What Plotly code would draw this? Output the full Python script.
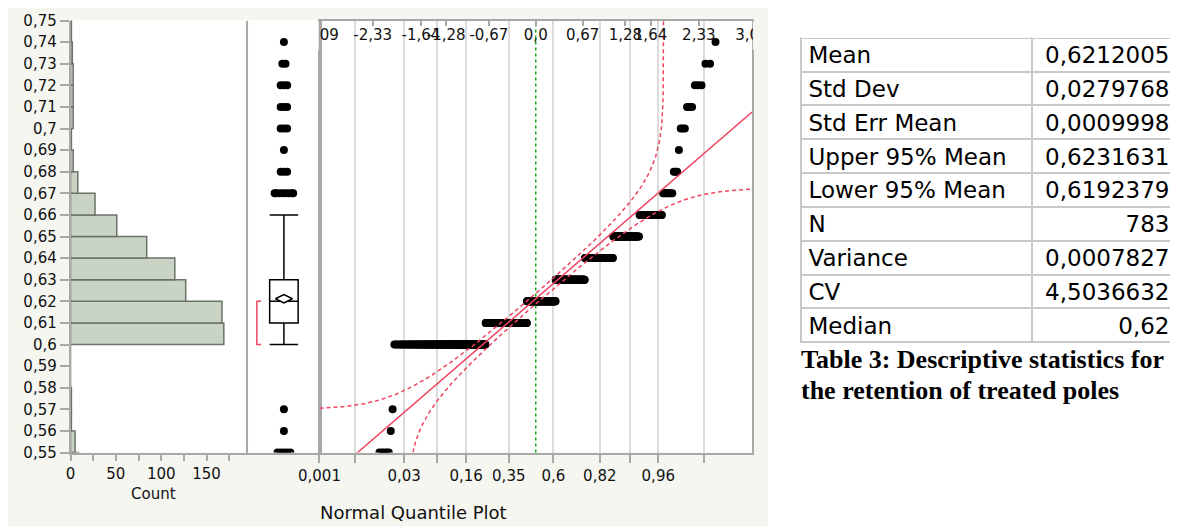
import numpy as np
import plotly.graph_objects as go
from statistics import NormalDist

# ---------------- data ----------------
# retention levels (0.01 steps) and how many poles sit at each level
# (0.54 / 0.76 are off-scale values hidden below / above the axis range)
levels = [0.54, 0.55, 0.56, 0.57, 0.58, 0.59, 0.60, 0.61, 0.62, 0.63, 0.64,
          0.65, 0.66, 0.67, 0.68, 0.69, 0.70, 0.71, 0.72, 0.73, 0.74, 0.76]
counts = [9, 5, 1, 1, 0, 0, 169, 167, 127, 115, 84,
          51, 27, 8, 3, 1, 3, 3, 3, 2, 1, 3]

# box-plot statistics
box_q1 = 0.61
box_median = 0.62
box_q3 = 0.63
whisker_low = 0.60
whisker_high = 0.66
shortest_half = [0.60, 0.62]

# descriptive statistics table
stat_names = ["Mean", "Std Dev", "Std Err Mean", "Upper 95% Mean",
              "Lower 95% Mean", "N", "Variance", "CV", "Median"]
stat_values = ["0,6212005", "0,0279768", "0,0009998", "0,6231631",
               "0,6192379", "783", "0,0007827", "4,5036632", "0,62"]

# Lilliefors critical distance for the confidence bands
lilliefors_d = 0.034

# axis tick labels
y_tick_labels = ["0,55", "0,56", "0,57", "0,58", "0,59", "0,6", "0,61", "0,62",
                 "0,63", "0,64", "0,65", "0,66", "0,67", "0,68", "0,69", "0,7",
                 "0,71", "0,72", "0,73", "0,74", "0,75"]
count_ticks = [0, 25, 50, 75, 100, 125, 150, 175]
count_labels = ["0", "", "50", "", "100", "", "150", ""]
prob_ticks = [0.001, 0.005, 0.03, 0.08, 0.16, 0.35, 0.6, 0.82, 0.91, 0.96, 0.992]
prob_labels = ["0,001", "", "0,03", "", "0,16", "0,35", "0,6", "0,82", "", "0,96", ""]
quant_ticks = [-3.09, -2.33, -1.64, -1.28, -0.67, 0.0, 0.67, 1.28, 1.64, 2.33, 3.09]
quant_labels = ["-3,09", "-2,33", "-1,64", "-1,28", "-0,67", "0,0", "0,67",
                "1,28", "1,64", "2,33", "3,09"]
caption_lines = ["Table 3: Descriptive statistics for", "the retention of treated poles"]

# ---------------- derived quantities ----------------
def num(s):
    return float(s.replace(",", "."))

stats = dict(zip(stat_names, stat_values))
mean = num(stats["Mean"])
sd = num(stats["Std Dev"])
mean_hi = num(stats["Upper 95% Mean"])
mean_lo = num(stats["Lower 95% Mean"])

nd = NormalDist()
y_ticks = [num(t) for t in y_tick_labels]
y_range = [y_ticks[0], y_ticks[-1]]
z_range = [quant_ticks[0], quant_ticks[-1]]

values = np.repeat(levels, counts)
n = len(values)
normal_scores = np.array([nd.inv_cdf(r / (n + 1)) for r in range(1, n + 1)])

# outliers for box plot (beyond whiskers), spread side by side
out_x, out_y = [], []
for lv, c in zip(levels, counts):
    if lv < whisker_low or lv > whisker_high:
        for k in range(c):
            off = (k - (c - 1) / 2) * 0.045
            out_x.append(max(-0.13, min(0.13, off)))
            out_y.append(lv)

# fit line and Lilliefors bands
fit_z = np.array(z_range)
fit_y = mean + sd * fit_z
eps = np.logspace(-10, -2, 40)
z_grid = np.concatenate([
    np.linspace(z_range[0], z_range[1], 500),
    [nd.inv_cdf(1 - lilliefors_d - e) for e in eps],
    [nd.inv_cdf(lilliefors_d + e) for e in eps],
])
z_grid = np.sort(z_grid)
band_hi, band_lo = [], []
for zz in z_grid:
    p = nd.cdf(zz)
    band_hi.append(mean + sd * nd.inv_cdf(p + lilliefors_d) if p + lilliefors_d < 1 else None)
    band_lo.append(mean + sd * nd.inv_cdf(p - lilliefors_d) if p - lilliefors_d > 0 else None)

# ---------------- layout geometry (page has an 8px body margin) ----------------
OFF = 8
W, H = 1178 - OFF, 526 - OFF
def px_x(v):
    return (v - OFF) / W
def px_y(v):
    return 1 - (v - OFF) / H

dom_y = [px_y(452.5), px_y(20.5)]
dom_hist = [px_x(70.5), px_x(248.3)]
dom_box = [px_x(248.3), px_x(319.5)]
dom_q = [px_x(319.5), px_x(752)]

FONT = "DejaVu Sans"
TXT = "#111111"
FRAME = "#a8a8a8"
RED = "#ef4560"
GREEN = "#14a814"
PANEL = "#f6f6f1"

fig = go.Figure()

# histogram
fig.add_trace(go.Bar(
    x=counts, y=levels, orientation="h", width=0.01, offset=0,
    marker=dict(color="#c9d4c7", line=dict(color="#6b7369", width=1.5)),
    xaxis="x", yaxis="y", hoverinfo="skip"))

# box plot
fig.add_trace(go.Box(
    x=[0], q1=[box_q1], median=[box_median], q3=[box_q3],
    lowerfence=[whisker_low], upperfence=[whisker_high],
    width=0.4, whiskerwidth=1, fillcolor="white",
    line=dict(color="black", width=1.5), boxpoints=False,
    xaxis="x2", yaxis="y2", hoverinfo="skip"))
dhw = 0.12
fig.add_trace(go.Scatter(
    x=[-dhw, 0, dhw, 0, -dhw], y=[mean, mean_hi, mean, mean_lo, mean],
    mode="lines", fill="toself", fillcolor="white",
    line=dict(color="black", width=1.5), xaxis="x2", yaxis="y2", hoverinfo="skip"))
fig.add_trace(go.Scatter(
    x=[-0.32, -0.38, -0.38, -0.32],
    y=[shortest_half[1], shortest_half[1], shortest_half[0], shortest_half[0]],
    mode="lines", line=dict(color=RED, width=1.5), xaxis="x2", yaxis="y2",
    hoverinfo="skip"))
fig.add_trace(go.Scatter(
    x=out_x, y=out_y, mode="markers", marker=dict(color="black", size=8),
    xaxis="x2", yaxis="y2", hoverinfo="skip"))

# normal quantile plot
fig.add_trace(go.Scatter(
    x=normal_scores, y=values, mode="markers",
    marker=dict(color="black", size=8), xaxis="x3", yaxis="y3", hoverinfo="skip"))
fig.add_trace(go.Scatter(
    x=z_grid, y=band_hi, mode="lines", line=dict(color=RED, width=1.5, dash="4px,3px"),
    connectgaps=False, xaxis="x4", yaxis="y3", hoverinfo="skip"))
fig.add_trace(go.Scatter(
    x=z_grid, y=band_lo, mode="lines", line=dict(color=RED, width=1.5, dash="4px,3px"),
    connectgaps=False, xaxis="x4", yaxis="y3", hoverinfo="skip"))
fig.add_trace(go.Scatter(
    x=fit_z, y=fit_y, mode="lines", line=dict(color=RED, width=1.5),
    xaxis="x4", yaxis="y3", hoverinfo="skip"))

# statistics table (a 1px blank header so the rows start at the top)
fig.add_trace(go.Table(
    domain=dict(x=[px_x(800.5), 1.0], y=[px_y(420), px_y(36.7)]),
    columnwidth=[231.5, 146],
    header=dict(values=["", ""], height=1, fill_color="white",
                line=dict(color="white", width=0)),
    cells=dict(values=[stat_names, stat_values], align=["left", "right"],
               height=33.85, fill_color="white",
               line=dict(color="#c8c8c8", width=2),
               font=dict(family=FONT, size=23, color="black"))))

axis_common = dict(showgrid=False, zeroline=False, linecolor=FRAME, linewidth=1.5,
                   tickcolor=FRAME, tickwidth=1.5, automargin=False,
                   tickfont=dict(family=FONT, size=15, color=TXT))

fig.update_layout(
    width=W, height=H, margin=dict(l=0, r=0, t=0, b=0, autoexpand=False),
    paper_bgcolor=PANEL, plot_bgcolor="white", showlegend=False,
    xaxis=dict(domain=dom_hist, anchor="y", range=[0, 196], tickmode="array",
               tickvals=count_ticks, ticktext=count_labels, ticks="outside",
               ticklen=7, showline=True, tickangle=0, **axis_common),
    yaxis=dict(domain=dom_y, anchor="x", range=y_range, tickmode="array",
               tickvals=y_ticks, ticktext=y_tick_labels, ticks="outside",
               ticklen=9, showline=True, **axis_common),
    xaxis2=dict(domain=dom_box, anchor="y2", range=[-0.5, 0.5], showticklabels=False,
                ticks="", showline=True, **axis_common),
    yaxis2=dict(domain=dom_y, anchor="x2", range=y_range, showticklabels=False,
                ticks="", showline=True, mirror=True, **axis_common),
    xaxis3=dict(domain=dom_q, anchor="y3", range=z_range, tickmode="array",
                tickvals=[nd.inv_cdf(p) for p in prob_ticks], ticktext=prob_labels,
                ticks="outside", ticklen=9, showline=True, mirror=True, tickangle=0,
                **{**axis_common, "showgrid": True}, gridcolor="#dcdcdc", gridwidth=1.5),
    yaxis3=dict(domain=dom_y, anchor="x3", range=y_range, showticklabels=False,
                ticks="", showline=True, mirror=True, **axis_common),
    xaxis4=dict(overlaying="x3", anchor="y3", side="top", range=z_range,
                tickmode="array", tickvals=quant_ticks, ticktext=quant_labels,
                ticks="inside", ticklen=5, ticklabelposition="inside", tickangle=0,
                ticklabelstandoff=4, ticklabeloverflow="allow", showline=False,
                **axis_common),
)

# white page to the right of the JMP report panel
fig.add_shape(type="rect", xref="paper", yref="paper", x0=px_x(768), x1=1,
              y0=0, y1=1, fillcolor="white", line=dict(width=0), layer="below")
# median reference (p = 0.5) line
fig.add_shape(type="line", xref="x3", yref="y3 domain", x0=nd.inv_cdf(0.5),
              x1=nd.inv_cdf(0.5), y0=0, y1=1, line=dict(color=GREEN, width=1.5, dash="dot"),
              layer="below")
# clip the end labels of the top quantile axis at the frame (as in the report)
fig.add_shape(type="rect", xref="paper", yref="paper", x0=px_x(294), x1=px_x(318.7),
              y0=px_y(50), y1=px_y(21.5), fillcolor="white", line=dict(width=0),
              layer="above")
fig.add_shape(type="rect", xref="paper", yref="paper", x0=px_x(752.9), x1=px_x(768),
              y0=px_y(50), y1=px_y(21.5), fillcolor=PANEL, line=dict(width=0),
              layer="above")
fig.add_shape(type="rect", xref="paper", yref="paper", x0=px_x(768), x1=px_x(780),
              y0=px_y(50), y1=px_y(21.5), fillcolor="white", line=dict(width=0),
              layer="above")

fig.add_annotation(text="Count", xref="paper", yref="paper", x=px_x(153), y=px_y(494),
                   xanchor="center", yanchor="middle", showarrow=False,
                   font=dict(family=FONT, size=15, color=TXT))
fig.add_annotation(text="Normal Quantile Plot", xref="paper", yref="paper",
                   x=px_x(413), y=px_y(512), xanchor="center", yanchor="middle",
                   showarrow=False, font=dict(family=FONT, size=18, color=TXT))
for i, line in enumerate(caption_lines):
    fig.add_annotation(text="<b>" + line + "</b>", xref="paper", yref="paper",
                       x=px_x(799), y=px_y(359 + 31 * i), xanchor="left",
                       yanchor="middle", showarrow=False,
                       font=dict(family="Liberation Serif", size=26, color="black"))

fig.write_html("out.html")
